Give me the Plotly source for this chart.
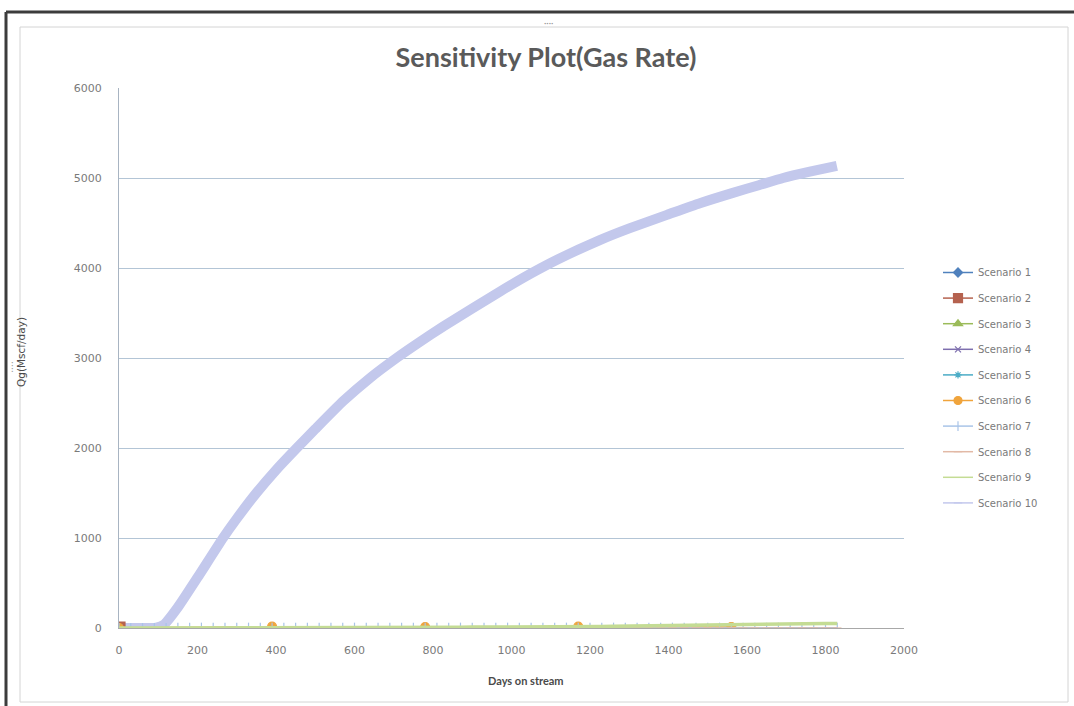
import plotly.graph_objects as go

# ---------------- data ----------------
scenario_names = [f"Scenario {i}" for i in range(1, 11)]

# Scenario 10: main gas-rate response (Mscf/day)
days_s10 = [0, 50, 95, 115, 150, 200, 265, 300, 350, 400, 453, 500, 571, 640, 707,
            760, 826, 900, 971, 1050, 1120, 1225, 1300, 1396, 1480, 1564, 1630, 1692,
            1760, 1829]
rate_s10 = [0, 0, 5, 40, 230, 560, 1000, 1215, 1500, 1755, 2000, 2210, 2520, 2780, 3000,
            3160, 3350, 3550, 3740, 3940, 4100, 4310, 4440, 4590, 4720, 4835, 4920, 5000,
            5070, 5135]

# Scenarios 1-5: single starting point
days_s1_5 = [0]
rate_s1 = [0]
rate_s2 = [0]
rate_s3 = [0]
rate_s4 = [0]
rate_s5 = [0]

# Scenario 6: sparse samples
days_s6 = [0, 390, 780, 1170, 1560]
rate_s6 = [0, 15, 10, 15, 10]

# Scenarios 7-9: monthly samples near zero
days_monthly = list(range(0, 1831, 30))
rate_s7 = [0, 0, 0, 0, 0, 5, 5, 5, 5, 5, 5, 5, 5, 5, 5, 5, 5, 5, 5, 5, 5,
           5, 5, 5, 5, 5, 5, 5, 5, 5, 5, 5, 5, 5, 5, 5, 5, 5, 5, 5, 5,
           5, 5, 5, 5, 5, 5, 5, 5, 5, 5, 5, 5, 5, 5, 5, 5, 5, 5, 5, 5, 5]
rate_s8 = [0, 0, 0, 0, 0, 0, 0, 0, 0, 0, 0, 0, 0, 0, 0, 0, 0, 0, 0, 2, 2,
           2, 2, 2, 2, 2, 2, 2, 2, 2, 2, 2, 2, 2, 2, 2, 2, 2, 2, 2, 2,
           2, 2, 2, 2, 2, 2, 2, 2, 2, 2, 2, 2, 0, 0, 0, 0, 0, 0, 0, 0, 0]
rate_s9 = [0, 0, 0, 0, 5, 5, 5, 5, 5, 5, 5, 5, 5, 5, 5, 5, 5, 5, 5, 5, 8,
           8, 8, 8, 8, 8, 8, 8, 8, 8, 10, 10, 10, 10, 10, 10, 10, 10, 10, 12, 15,
           18, 20, 22, 25, 28, 30, 32, 34, 36, 38, 40, 42, 44, 45, 46, 47, 48, 48, 49, 50, 50]

x_ticks = [0, 200, 400, 600, 800, 1000, 1200, 1400, 1600, 1800, 2000]
y_ticks = [0, 1000, 2000, 3000, 4000, 5000, 6000]

# ---------------- styles ----------------
colors = ["#4f81bd", "#b5624f", "#9bbb59", "#7e6fae", "#4bacc6",
          "#f0a43c", "#a9c4e8", "#e2b9a6", "#c4dc94", "#c3c8ec"]
symbols = ["diamond", "square", "triangle-up", "x-thin-open", "asterisk-open",
           "circle", "line-ns-open", "line-ew-open", None, "line-ew-open"]

fig = go.Figure()

series = [
    (days_s1_5, rate_s1), (days_s1_5, rate_s2), (days_s1_5, rate_s3),
    (days_s1_5, rate_s4), (days_s1_5, rate_s5), (days_s6, rate_s6),
    (days_monthly, rate_s7), (days_monthly, rate_s8), (days_monthly, rate_s9),
]

# Scenario 10 drawn first (thick), bottom scenarios on top of it
fig.add_trace(go.Scatter(x=days_s10, y=rate_s10, mode="lines",
                         line=dict(color=colors[9], width=10, shape="spline", smoothing=0.5),
                         showlegend=False, hoverinfo="skip"))

plot_sizes = [8, 12, 9, 7, 7, 9, 7, 6, 5, 6]
legend_sizes = [7, 9, 8, 6, 6, 8, 7, 6, 5, 6]
line_widths = [1.5, 1.5, 1.5, 1.5, 1.5, 1.5, 1.2, 1.2, 3.5, 1.5]

for i, (dx, dy) in enumerate(series):
    sym = symbols[i]
    mode = "lines+markers" if sym else "lines"
    mk = dict(symbol=sym, size=plot_sizes[i], color=colors[i],
              line=dict(color=colors[i], width=1.2)) if sym else None
    fig.add_trace(go.Scatter(x=dx, y=dy, mode=mode, name=scenario_names[i],
                             line=dict(color=colors[i], width=line_widths[i]),
                             marker=mk, legendgroup=scenario_names[i], showlegend=False))

# legend entries (thin line samples)
for i in range(10):
    sym = symbols[i]
    mode = "lines+markers" if sym else "lines"
    mk = dict(symbol=sym, size=legend_sizes[i], color=colors[i],
              line=dict(color=colors[i], width=1.2)) if sym else None
    fig.add_trace(go.Scatter(x=[None], y=[None], mode=mode, name=scenario_names[i],
                             line=dict(color=colors[i], width=1.5),
                             marker=mk, legendgroup=scenario_names[i], showlegend=True))

# ---------------- layout ----------------
L, R, T, B = 119, 170, 88, 78
W, H = 1074, 706
pw, ph = W - L - R, H - T - B


def px(xp):
    return (xp - L) / pw


def py(yp):
    return (H - B - yp) / ph


tick_font = dict(family="DejaVu Sans", size=11, color="#7a7a7a")

fig.update_layout(
    width=W, height=H,
    margin=dict(l=L, r=R, t=T, b=B),
    paper_bgcolor="white", plot_bgcolor="white",
    font=dict(family="Lato", color="#595959"),
    title=dict(text="<b>Sensitivity Plot(Gas Rate)</b>", x=px(546), xref="paper",
               xanchor="center", y=1 - 58 / H, yanchor="middle",
               font=dict(family="Lato", size=27, color="#5a5a5a")),
    xaxis=dict(range=[0, 2000], tickvals=x_ticks, showgrid=False, zeroline=False,
               showline=True, linecolor="#a8a8a8", linewidth=1, ticks="",
               tickfont=tick_font, ticklabelstandoff=12, fixedrange=True),
    yaxis=dict(range=[0, 6000], tickvals=y_ticks, showgrid=True, gridcolor="#b3c5d6",
               gridwidth=1, zeroline=False, showline=True, linecolor="#a8b4c2",
               linewidth=1, ticks="", tickfont=tick_font, ticklabelstandoff=14,
               fixedrange=True),
    legend=dict(x=px(938), xanchor="left", y=py(388), yanchor="middle",
                font=dict(family="DejaVu Sans", size=10, color="#7a7a7a"),
                tracegroupgap=6.6, traceorder="grouped", itemwidth=30,
                bgcolor="rgba(0,0,0,0)"),
    showlegend=True,
)

# axis titles
fig.add_annotation(text="<b>Days on stream</b>", x=px(526), y=py(680), xref="paper",
                   yref="paper", showarrow=False, xanchor="center", yanchor="middle",
                   font=dict(family="Lato", size=11, color="#4a4a4a"))
fig.add_annotation(text="Qg(Mscf/day)", x=px(21), y=py(352), xref="paper",
                   yref="paper", showarrow=False, textangle=-90,
                   xanchor="center", yanchor="middle",
                   font=dict(family="DejaVu Sans", size=10.5, color="#4a4a4a"))

# window frame and chart-area border
fig.add_shape(type="line", xref="paper", yref="paper", x0=px(6), x1=px(1074),
              y0=py(12), y1=py(12), line=dict(color="#3c3c3c", width=3))
fig.add_shape(type="line", xref="paper", yref="paper", x0=px(6), x1=px(6),
              y0=py(12), y1=py(706), line=dict(color="#3c3c3c", width=3))
fig.add_shape(type="rect", xref="paper", yref="paper", x0=px(20), x1=px(1068),
              y0=py(27), y1=py(702), line=dict(color="#d4d4d4", width=1))
fig.add_annotation(text="····", x=px(548), y=py(22), xref="paper", yref="paper",
                   showarrow=False, xanchor="center", yanchor="middle",
                   font=dict(size=9, color="#9a9a9a"))
fig.add_annotation(text="⁞", x=px(12), y=py(366), xref="paper", yref="paper",
                   showarrow=False, xanchor="center", yanchor="middle",
                   font=dict(size=10, color="#9a9a9a"))

fig.write_html("out.html")
